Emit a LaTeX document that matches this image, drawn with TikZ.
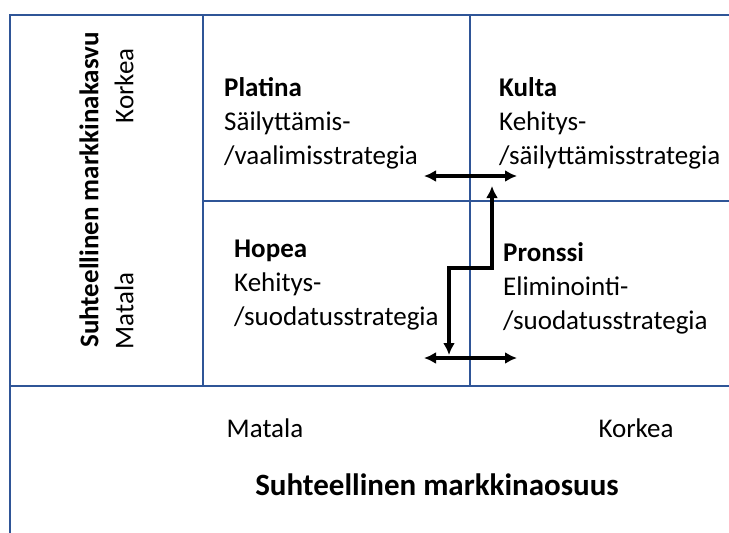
\documentclass[tikz,border=0pt]{standalone}
\usepackage{fontspec}
\setmainfont{Carlito}
\usepackage{tikz}
\usetikzlibrary{arrows.meta,positioning}
\definecolor{gridblue}{RGB}{47,85,151}

\begin{document}
\begin{tikzpicture}[
    x=1pt, y=-1pt,
    grid/.style={draw=gridblue, line width=2.6pt},
    quad/.style={anchor=north west, inner sep=0pt, align=left, font=\fontsize{27}{34}\selectfont},
    axis/.style={inner sep=0pt, font=\fontsize{27}{34}\selectfont},
    axistitle/.style={inner sep=0pt, font=\fontsize{27}{34}\selectfont\bfseries},
    dblarrow/.style={{Latex[length=12pt,width=12pt]}-{Latex[length=12pt,width=12pt]}, line width=3.6pt}
]
    \useasboundingbox (0,0) rectangle (729,533);

    % Grid
    \draw[grid] (10,533) -- (10,15) -- (729,15);
    \draw[grid] (10,386) -- (729,386);
    \draw[grid] (203,15) -- (203,386);
    \draw[grid] (470,15) -- (470,386);
    \draw[grid] (203,201) -- (729,201);

    % Top row
    \node[quad] (platina) at (224,77) {\textbf{Platina}\\Säilyttämis-\\/vaalimisstrategia};
    \node[quad] (kulta) at (499,77) {\textbf{Kulta}\\Kehitys-\\/säilyttämisstrategia};

    % Bottom row
    \node[quad] (hopea) at (234,240) {\textbf{Hopea}\\Kehitys-\\/suodatusstrategia};
    \node[quad] (pronssi) at (503,242) {\textbf{Pronssi}\\Eliminointi-\\/suodatusstrategia};

    % Axes
    \node[axis] (xlow) at (265,428) {Matala};
    \node[axis] (xhigh) at (636,428) {Korkea};
    \node[axistitle, font=\fontsize{31}{38}\selectfont\bfseries] (xtitle) at (437,485) {Suhteellinen markkinaosuus};
    \node[axistitle, rotate=90] (ytitle) at (89,190) {Suhteellinen markkinakasvu};
    \node[axis, rotate=90] (yhigh) at (124,86) {Korkea};
    \node[axis, rotate=90] (ylow) at (124,311) {Matala};

    % Arrows
    \coordinate (tl) at (424,176);
    \coordinate (tr) at (517,176);
    \coordinate (bl) at (424,358);
    \coordinate (br) at (517,358);
    \coordinate (jlow) at (449,355);
    \coordinate (jmid) at (470,268);
    \coordinate (jhigh) at (492,186);
    \draw[dblarrow] (tl) -- (tr);
    \draw[dblarrow] (bl) -- (br);
    \draw[dblarrow] (jlow) |- (jmid) -| (jhigh);
\end{tikzpicture}
\end{document}
